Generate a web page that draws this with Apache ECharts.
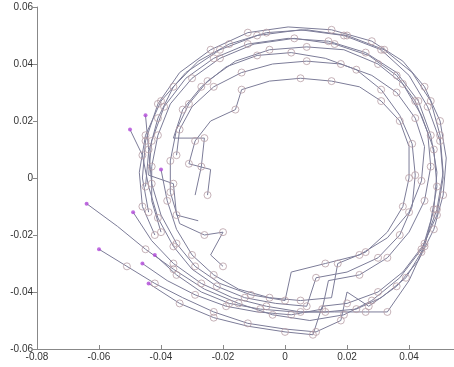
<!DOCTYPE html>
<html>
<head>
<meta charset="utf-8">
<script src="https://cdn.jsdelivr.net/npm/echarts@6/dist/echarts.min.js"></script>
<style>
  html, body { margin: 0; padding: 0; background: #fff; }
  #chart { width: 454px; height: 367px; }
</style>
</head>
<body>
<div id="chart"></div>
<script>
// axis ticks
var xTicks = [-0.08, -0.06, -0.04, -0.02, 0, 0.02, 0.04];
var yTicks = [-0.06, -0.04, -0.02, 0, 0.02, 0.04, 0.06];

// trajectories ([x, y])
var trajA = [[-0.064,-0.009],[-0.054,-0.017],[-0.045,-0.025],[-0.036,-0.032],[-0.026,-0.039],[-0.015,-0.044],[-0.004,-0.048],[0.008,-0.050],[0.019,-0.048],[0.028,-0.043],[0.037,-0.035],[0.044,-0.025],[0.049,-0.013],[0.051,0.000],[0.050,0.013],[0.046,0.025],[0.040,0.036],[0.031,0.045],[0.019,0.050],[0.005,0.052],[-0.009,0.050],[-0.021,0.045],[-0.032,0.037],[-0.040,0.027],[-0.045,0.015],[-0.047,0.002],[-0.046,-0.010],[-0.042,-0.020]];
var trajB = [[-0.060,-0.025],[-0.051,-0.031],[-0.042,-0.037],[-0.033,-0.042],[-0.023,-0.047],[-0.012,-0.051],[0.000,-0.053],[0.010,-0.054],[0.018,-0.050],[0.020,-0.040],[0.027,-0.045],[0.036,-0.038],[0.043,-0.029],[0.048,-0.018],[0.051,-0.006],[0.052,0.007],[0.050,0.020],[0.045,0.032],[0.038,0.041],[0.028,0.048],[0.015,0.052],[0.001,0.053],[-0.012,0.051],[-0.024,0.045],[-0.034,0.037],[-0.041,0.026],[-0.045,0.013],[-0.046,0.000],[-0.044,-0.012]];
var trajC = [[-0.050,0.017],[-0.046,0.008],[-0.044,-0.003],[-0.041,-0.014],[-0.036,-0.024],[-0.030,-0.032],[-0.022,-0.038],[-0.013,-0.042],[-0.003,-0.044],[0.007,-0.045],[0.010,-0.035],[0.020,-0.033],[0.030,-0.028],[0.037,-0.020],[0.041,-0.010],[0.042,0.001],[0.041,0.012],[0.037,0.022],[0.031,0.031],[0.023,0.038],[0.013,0.042],[0.002,0.044],[-0.009,0.043],[-0.019,0.039],[-0.027,0.032],[-0.033,0.024],[-0.036,0.014],[-0.026,0.014],[-0.027,0.004],[-0.029,-0.006]];
var trajD = [[-0.046,-0.030],[-0.038,-0.036],[-0.029,-0.041],[-0.019,-0.045],[-0.009,-0.047],[0.002,-0.048],[0.012,-0.046],[0.014,-0.036],[0.024,-0.034],[0.033,-0.028],[0.040,-0.019],[0.045,-0.008],[0.047,0.004],[0.046,0.016],[0.042,0.027],[0.036,0.036],[0.027,0.043],[0.016,0.047],[0.003,0.049],[-0.010,0.047],[-0.021,0.042],[-0.030,0.035],[-0.037,0.026],[-0.041,0.015],[-0.043,0.004],[-0.043,-0.008],[-0.040,-0.019]];
var trajE = [[-0.044,-0.037],[-0.034,-0.044],[-0.023,-0.049],[-0.012,-0.052],[0.000,-0.054],[0.009,-0.055],[0.012,-0.045],[0.020,-0.044],[0.030,-0.040],[0.038,-0.033],[0.045,-0.023],[0.049,-0.011],[0.051,0.002],[0.050,0.015],[0.047,0.027],[0.041,0.037],[0.032,0.045],[0.020,0.050],[0.007,0.052],[-0.006,0.051],[-0.018,0.047],[-0.028,0.041],[-0.036,0.032],[-0.041,0.021],[-0.044,0.009],[-0.045,-0.003]];
var trajF = [[-0.040,0.003],[-0.038,-0.008],[-0.035,-0.018],[-0.030,-0.027],[-0.023,-0.034],[-0.015,-0.039],[-0.005,-0.042],[0.005,-0.043],[0.015,-0.042],[0.017,-0.030],[0.026,-0.026],[0.033,-0.019],[0.038,-0.010],[0.040,0.000],[0.040,0.011],[0.037,0.020],[0.031,0.027],[0.024,0.032],[0.015,0.034],[0.005,0.035],[-0.005,0.034],[-0.014,0.031],[-0.016,0.024],[-0.024,0.020],[-0.029,0.013],[-0.031,0.005],[-0.024,0.003],[-0.025,-0.006]];
var trajG = [[-0.049,-0.012],[-0.043,-0.022],[-0.036,-0.030],[-0.027,-0.037],[-0.017,-0.042],[-0.006,-0.045],[0.005,-0.047],[0.016,-0.047],[0.026,-0.047],[0.033,-0.047],[0.040,-0.036],[0.045,-0.024],[0.048,-0.011],[0.049,0.002],[0.047,0.015],[0.043,0.027],[0.036,0.037],[0.026,0.044],[0.014,0.048],[0.001,0.049],[-0.012,0.047],[-0.023,0.042],[-0.032,0.035],[-0.039,0.025],[-0.043,0.013],[-0.044,0.001],[-0.036,-0.002],[-0.035,-0.013],[-0.028,-0.015]];
var trajH = [[-0.045,0.022],[-0.044,0.010],[-0.043,-0.002],[-0.040,-0.013],[-0.035,-0.023],[-0.029,-0.031],[-0.021,-0.037],[-0.011,-0.041],[0.000,-0.043],[0.002,-0.033],[0.013,-0.030],[0.024,-0.027],[0.033,-0.021],[0.040,-0.012],[0.044,-0.001],[0.045,0.011],[0.042,0.021],[0.036,0.030],[0.028,0.036],[0.018,0.040],[0.007,0.041],[-0.004,0.040],[-0.014,0.037],[-0.023,0.032],[-0.030,0.025],[-0.034,0.017],[-0.035,0.008]];
var trajI = [[-0.042,-0.027],[-0.035,-0.034],[-0.027,-0.040],[-0.018,-0.044],[-0.008,-0.046],[0.003,-0.047],[0.013,-0.047],[0.023,-0.046],[0.031,-0.042],[0.039,-0.035],[0.044,-0.026],[0.047,-0.015],[0.049,-0.003],[0.048,0.010],[0.044,0.022],[0.038,0.033],[0.030,0.040],[0.019,0.045],[0.007,0.046],[-0.005,0.045],[-0.016,0.041],[-0.025,0.034],[-0.031,0.026],[-0.035,0.017],[-0.037,0.006],[-0.037,-0.005],[-0.034,-0.016],[-0.026,-0.020],[-0.020,-0.019],[-0.024,-0.027],[-0.020,-0.031]];

var tracks = [trajA, trajB, trajC, trajD, trajE, trajF, trajG, trajH, trajI];

var chart = echarts.init(document.getElementById('chart'));

var series = [];
tracks.forEach(function (t, k) {
    series.push({
        type: 'line',
        data: t,
        showAllSymbol: true,
        symbol: function (v, p) {
            var i = p.dataIndex;
            return (i === 0 || (i + k) % 3 === 1) ? 'none' : 'circle';
        },
        symbolSize: 7,
        lineStyle: { color: '#7c7c98', width: 1 },
        itemStyle: { color: 'rgba(0,0,0,0)', borderColor: '#b89ea6', borderWidth: 0.8 },
        z: 2,
        silent: true
    });
});
// start points
series.push({
    type: 'scatter',
    data: tracks.map(function (t) { return t[0]; }),
    symbolSize: 4,
    itemStyle: { color: '#b048d8' },
    z: 3,
    silent: true
});

var labelStyle = { color: '#333', fontSize: 10, fontFamily: 'Liberation Sans' };

chart.setOption({
    animation: false,
    grid: { left: 37, right: 0, top: 7, bottom: 18, containLabel: false },
    xAxis: {
        type: 'value',
        min: xTicks[0],
        max: 0.0545,
        interval: 0.02,
        axisLine: { show: true, onZero: false, lineStyle: { color: '#888' } },
        axisTick: { show: true, inside: true, length: 4, lineStyle: { color: '#888' } },
        axisLabel: Object.assign({ margin: 3, showMaxLabel: false,
            formatter: function (v) { return xTicks.indexOf(+v.toFixed(2)) >= 0 ? String(+v.toFixed(2)) : ''; } }, labelStyle),
        splitLine: { show: false }
    },
    yAxis: {
        type: 'value',
        min: yTicks[0],
        max: yTicks[yTicks.length - 1],
        interval: 0.02,
        axisLine: { show: true, onZero: false, lineStyle: { color: '#888' } },
        axisTick: { show: true, length: 4, lineStyle: { color: '#888' } },
        axisLabel: Object.assign({ margin: 4,
            formatter: function (v) { return String(+v.toFixed(2)); } }, labelStyle),
        splitLine: { show: false }
    },
    series: series
});
</script>
</body>
</html>
